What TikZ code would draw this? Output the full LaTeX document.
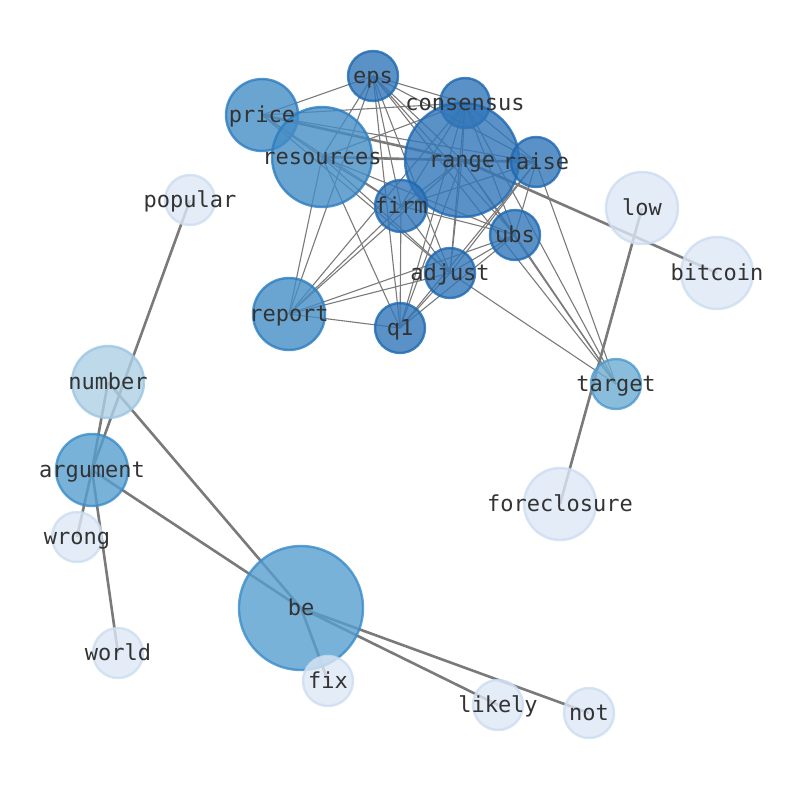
\documentclass[tikz,border=0pt]{standalone}
\usepackage{fontspec}
\usepackage{tikz}
\usetikzlibrary{calc}
\newfontfamily\wordfont{DejaVu Sans Mono}
\definecolor{fA}{HTML}{DCE7F5}
\definecolor{dA}{HTML}{CCDDF0}
\definecolor{fB}{HTML}{ACD0E5}
\definecolor{dB}{HTML}{9CC6E2}
\definecolor{fC}{HTML}{6DADD3}
\definecolor{dC}{HTML}{4E9ACC}
\definecolor{fD}{HTML}{589FD0}
\definecolor{dD}{HTML}{3A8CC8}
\definecolor{fE}{HTML}{458DC6}
\definecolor{dE}{HTML}{2C7DC0}
\definecolor{fF}{HTML}{3176B9}
\definecolor{dF}{HTML}{1D68B0}
\definecolor{lnkgray}{HTML}{7A7A7A}
\tikzset{blob/.style={circle, inner sep=0pt, line width=2.4pt, fill opacity=0.8, draw opacity=0.8},
    lnk/.style={draw=lnkgray, line width=1.1pt},
    hvy/.style={draw=lnkgray, line width=2.6pt},
    lbl/.style={inner sep=0pt, text height=19pt, text depth=5pt, text=black!80,
        font=\wordfont\fontsize{22}{24}\selectfont}}

\begin{document}
\begin{tikzpicture}[x=1pt, y=-1pt]
    \useasboundingbox (0,0) rectangle (794,790);
    % where the words sit
    \coordinate (eps) at (373,76);
    \coordinate (consensus) at (465,103);
    \coordinate (price) at (262,115);
    \coordinate (resources) at (322,157);
    \coordinate (range) at (462,160);
    \coordinate (raise) at (536,162);
    \coordinate (firm) at (401,206);
    \coordinate (ubs) at (515,235);
    \coordinate (adjust) at (450,273);
    \coordinate (report) at (289,314);
    \coordinate (q1) at (400,328);
    \coordinate (target) at (616,384);
    \coordinate (popular) at (190,200);
    \coordinate (low) at (642,208);
    \coordinate (bitcoin) at (717,273);
    \coordinate (number) at (108,382);
    \coordinate (argument) at (92,470);
    \coordinate (wrong) at (77,537);
    \coordinate (foreclosure) at (560,504);
    \coordinate (be) at (301,608);
    \coordinate (world) at (118,653);
    \coordinate (fix) at (328,681);
    \coordinate (likely) at (498,705);
    \coordinate (not) at (589,713);

    % links inside the cluster
    \foreach \a/\b in {eps/price, eps/resources, eps/consensus, eps/range, eps/raise, eps/firm,
        eps/adjust, eps/ubs, eps/q1, eps/report, eps/target,
        consensus/price, consensus/resources, consensus/range, consensus/raise, consensus/firm,
        consensus/adjust, consensus/ubs, consensus/q1, consensus/report, consensus/target,
        price/raise, price/resources, price/firm, price/adjust,
        resources/range, resources/firm, resources/adjust, resources/ubs, resources/q1, resources/report,
        range/raise, range/firm, range/adjust, range/ubs, range/q1, range/report, range/target,
        raise/firm, raise/adjust, raise/ubs, raise/q1, raise/target,
        firm/adjust, firm/ubs, firm/q1, firm/report,
        ubs/adjust, ubs/q1, ubs/report, ubs/target,
        adjust/q1, adjust/report, adjust/target,
        report/q1}
        \draw[lnk] (\a) -- (\b);
    % heavier links
    \foreach \a/\b in {price/range, resources/raise, range/bitcoin, low/foreclosure,
        popular/argument, argument/wrong, number/argument, argument/world, argument/be,
        number/be, be/fix, be/likely, be/not}
        \draw[hvy] (\a) -- (\b);

    % the circles
    \foreach \n/\d/\c in {eps/50/F, consensus/50/F, price/72/E, resources/100/E, range/114/F,
        raise/50/F, firm/52/F, ubs/50/F, adjust/50/F, report/72/E, q1/50/F, target/50/C,
        popular/50/A, low/72/A, bitcoin/72/A, number/72/B, argument/72/D, wrong/50/A,
        foreclosure/72/A, be/124/D, world/50/A, fix/50/A, likely/50/A, not/50/A}
        \node[blob, fill=f\c, draw=d\c, minimum size=\d pt] (c-\n) at (\n) {};

    % the words
    \foreach \n in {eps, consensus, price, resources, range, raise, firm, ubs, adjust, report,
        q1, target, popular, low, bitcoin, number, argument, wrong, foreclosure, be, world,
        fix, likely, not}
        \node[lbl] (t-\n) at (\n) {\n};
\end{tikzpicture}
\end{document}
